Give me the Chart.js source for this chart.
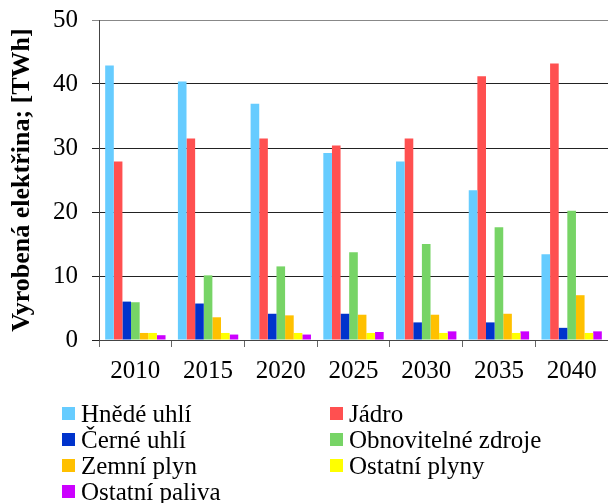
<!DOCTYPE html>
<html>
<head>
<meta charset="utf-8">
<script src="https://cdn.jsdelivr.net/npm/chart.js@4/dist/chart.umd.min.js"></script>
<style>
  html, body { margin: 0; padding: 0; background: #fff; }
  canvas { display: block; }
</style>
</head>
<body>
<canvas id="chart" width="608" height="503"></canvas>
<script>
const years = ['2010', '2015', '2020', '2025', '2030', '2035', '2040'];
const seriesNames = ['Hnědé uhlí', 'Jádro', 'Černé uhlí', 'Obnovitelné zdroje', 'Zemní plyn', 'Ostatní plyny', 'Ostatní paliva'];
const colors = ['#66CCFF', '#FF5050', '#0033CC', '#77D466', '#FFC000', '#FFFF00', '#CC00FF'];

const hnedeUhli = [42.9, 40.4, 36.9, 29.2, 27.9, 23.4, 13.4];
const jadro = [27.9, 31.5, 31.5, 30.4, 31.5, 41.2, 43.2];
const cerneUhli = [6.0, 5.7, 4.1, 4.1, 2.75, 2.75, 1.9];
const obnovitelne = [5.9, 10.1, 11.5, 13.7, 15.0, 17.6, 20.2];
const zemniPlyn = [1.1, 3.55, 3.85, 3.95, 3.95, 4.1, 7.0];
const ostatniPlyny = [1.1, 1.1, 1.1, 1.1, 1.1, 1.1, 1.1];
const ostatniPaliva = [0.75, 0.85, 0.85, 1.25, 1.35, 1.35, 1.35];

const yTicks = [0, 10, 20, 30, 40, 50];

const allValues = [hnedeUhli, jadro, cerneUhli, obnovitelne, zemniPlyn, ostatniPlyny, ostatniPaliva];
const serif = '"Liberation Serif", "Times New Roman", serif';

// legend drawn in two columns under the axis
const gridLegend = {
  id: 'gridLegend',
  afterDraw(chart) {
    const ctx = chart.ctx;
    const colX = [62, 330];
    const rowY = [414, 440, 466, 492];
    ctx.save();
    ctx.font = Chart.helpers.toFont({ family: serif, size: 25 }).string;
    ctx.textBaseline = 'middle';
    ctx.textAlign = 'left';
    chart.data.datasets.forEach((ds, i) => {
      const x = colX[i % 2];
      const y = rowY[Math.floor(i / 2)];
      ctx.fillStyle = ds.backgroundColor;
      ctx.fillRect(x, y - 7, 13, 13);
      ctx.fillStyle = '#000';
      ctx.fillText(ds.label, x + 19, y + 1);
    });
    ctx.restore();
  }
};

new Chart(document.getElementById('chart'), {
  type: 'bar',
  data: {
    labels: years,
    datasets: seriesNames.map((name, i) => ({
      label: name,
      data: allValues[i],
      backgroundColor: colors[i],
      borderWidth: 0,
      barPercentage: 1,
      categoryPercentage: 0.83
    }))
  },
  options: {
    responsive: false,
    animation: false,
    layout: { padding: { top: 20, right: 0, left: 0, bottom: 0 } },
    plugins: {
      legend: { display: false },
      tooltip: { enabled: false }
    },
    scales: {
      x: {
        afterFit(scale) { scale.height = 163; },
        grid: {
          offset: true,
          drawOnChartArea: false,
          tickLength: 7,
          color: '#666'
        },
        border: { color: '#444', width: 1 },
        ticks: {
          color: '#000',
          font: { family: serif, size: 25 },
          padding: 9,
          maxRotation: 0,
          autoSkip: false
        }
      },
      y: {
        min: 0,
        max: 50,
        afterFit(scale) {
          scale.width = 99;
          scale.paddingTop = 0;
          scale.paddingBottom = 0;
        },
        afterBuildTicks(scale) { scale.ticks = yTicks.map(v => ({ value: v })); },
        grid: {
          color: ctx => ctx.tick && ctx.tick.value === 50 ? '#888' : '#222',
          tickLength: 7
        },
        border: { color: '#444', width: 1 },
        ticks: {
          color: '#000',
          font: { family: serif, size: 25 },
          padding: 14
        },
        title: {
          display: true,
          text: 'Vyrobená elektřina; [TWh]',
          color: '#000',
          font: { family: serif, size: 26, weight: 'bold' },
          padding: { top: 7, bottom: 0 }
        }
      }
    }
  },
  plugins: [gridLegend]
});
</script>
</body>
</html>
